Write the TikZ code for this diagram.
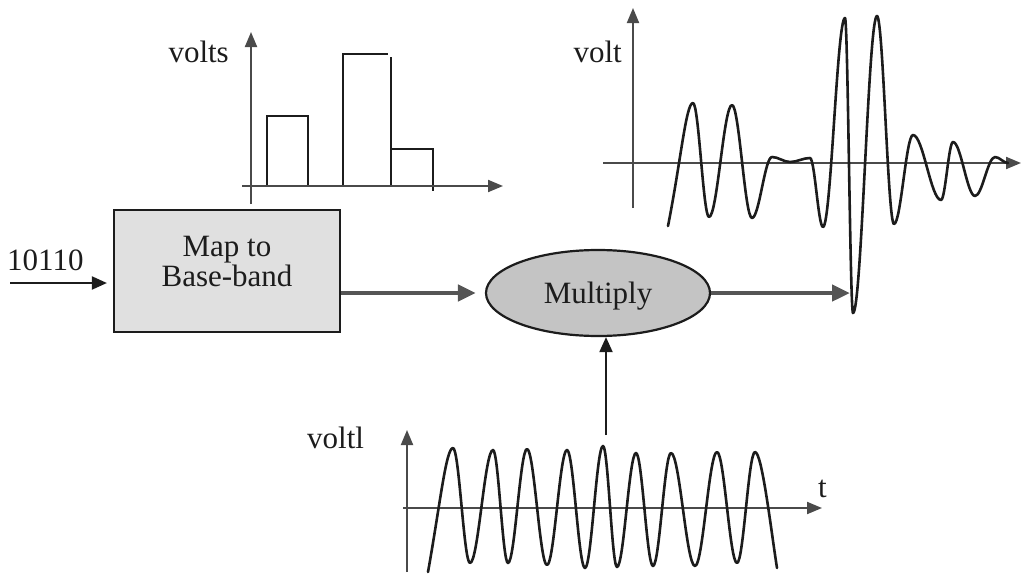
\documentclass[tikz,border=0pt]{standalone}
\usepackage{fontspec}
\setmainfont{Liberation Serif}
\usetikzlibrary{arrows.meta,shapes.geometric}
\definecolor{ink}{HTML}{1C1C1C}
\definecolor{axisgray}{HTML}{4A4A4A}
\definecolor{thickgray}{HTML}{555555}
\definecolor{boxgray}{HTML}{E0E0E0}
\definecolor{ellgray}{HTML}{C4C4C4}
\begin{document}
\begin{tikzpicture}[x=1pt,y=-1pt,
  txt/.style={font=\fontsize{31}{30}\selectfont, inner sep=0pt, text=ink},
  axis/.style={draw=axisgray, line width=2pt, -{Triangle[length=15pt,width=12pt]}},
  wave/.style={draw=ink, line width=2.6pt, line join=round, line cap=round},
  bar/.style={draw=ink, line width=2.4pt},
  thinarrow/.style={draw=ink, line width=2pt, -{Triangle[length=15pt,width=13pt]}},
  thickarrow/.style={draw=thickgray, line width=4.5pt, -{Triangle[length=18pt,width=16pt]}},
]
\useasboundingbox (0,0) rectangle (1022,573);

% ---------- blocks ----------
\node[draw=ink, line width=2.2pt, fill=boxgray, minimum width=226pt, minimum height=122pt,
      txt, align=center] (map) at (227,271) {Map to\\Base-band\rule[-20pt]{0pt}{20pt}};
\node[ellipse, draw=ink, line width=2.2pt, fill=ellgray, minimum width=224pt, minimum height=86pt,
      txt, text depth=0pt] (mult) at (598,293) {Multiply};

\node[txt, anchor=base west] (bits) at (7,270) {10110};
\coordinate (in) at (10,283);
\draw[thinarrow, shorten >=6pt] (in) -- (in -| map.west);

\draw[thickarrow, shorten >=9pt] (map.east |- mult.west) -- (mult.west);
\coordinate (out) at (850,293);
\draw[thickarrow] (mult.east) -- (mult.east -| out);

\coordinate (carrier) at (606,435);
\draw[thinarrow] (carrier) -- (carrier |- mult.south);

% ---------- base-band bar chart ----------
\draw[bar] (267,186) |- (308,116) -- (308,186);
\draw[bar] (343,186) |- (388,54);
\draw[bar] (391,57) -- (391,186);
\draw[bar] (391,149) -| (433,191);
\draw[axis] (251,204) -- (251,32);
\draw[axis] (242,186) -- (503,186);
\node[txt, anchor=base east] (vlabA) at (229,62) {volts};

% ---------- modulated output ----------
\draw[axis] (633,208) -- (633,8);
\draw[axis] (603,163) -- (1021,163);
\node[txt, anchor=base east] (vlabB) at (622,62) {volt};
\draw[wave] (668,226) .. controls (681,160) and (686,103) .. (693,103)
  foreach \x/\y [remember=\x as \lx (initially 693), remember=\y as \ly (initially 103)] in
  {709/217, 732/105, 752/218, 772/157, 790/162, 810/158, 823/227, 845/18, 853/313,
   877/16, 894/224, 913/135, 941/200, 953/142, 975/196, 995/157, 1008/163}
  { .. controls ({\lx+0.36*(\x-\lx)},\ly) and ({\x-0.36*(\x-\lx)},\y) .. (\x,\y) };

% ---------- carrier ----------
\draw[axis] (407,572) -- (407,430);
\draw[axis] (403,508) -- (822,508);
\node[txt, anchor=base west] (vlabC) at (307,448) {voltl};
\node[txt, anchor=base west] (tlab) at (818,497) {t};
\draw[wave] (428,572) .. controls (440,505) and (446,448) .. (453,448)
  foreach \x/\y [remember=\x as \lx (initially 453), remember=\y as \ly (initially 448)] in
  {470/563, 493/450, 508/563, 527/449, 547/565, 567/450, 585/568, 603/446, 617/567,
   636/453, 653/566, 671/453, 695/566, 717/452, 737/563, 755/452}
  { .. controls ({\lx+0.36*(\x-\lx)},\ly) and ({\x-0.36*(\x-\lx)},\y) .. (\x,\y) }
  .. controls (762,452) and (771,530) .. (777,568);
\end{tikzpicture}
\end{document}
